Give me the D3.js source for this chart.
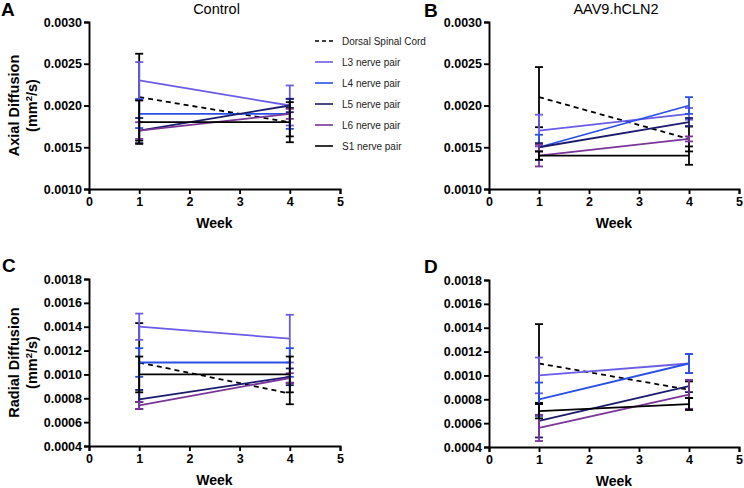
<!DOCTYPE html>
<html><head><meta charset="utf-8">
<script src="https://cdn.jsdelivr.net/npm/d3@7"></script>
<style>body{margin:0;background:#fff}svg{display:block}</style>
</head><body><svg id="c" width="744" height="488"></svg>
<script>
const weeks = [1, 4];
const seriesNames = ["Dorsal Spinal Cord", "L3 nerve pair", "L4 nerve pair", "L5 nerve pair", "L6 nerve pair", "S1 nerve pair"];
const seriesColors = ["#000000", "#6a5ce6", "#2a4fe6", "#1b1b6e", "#7a3598", "#000000"];
const seriesDash = ["5,4", null, null, null, null, null];

const xTicks = [0, 1, 2, 3, 4, 5];
const axialTicks = [0.0010, 0.0015, 0.0020, 0.0025, 0.0030];
const radialTicks = [0.0004, 0.0006, 0.0008, 0.0010, 0.0012, 0.0014, 0.0016, 0.0018];

// mean per series: [week1, week4]
const axialControl = [[0.0021, 0.0018], [0.0023, 0.0020], [0.0019, 0.0019], [0.0017, 0.0020], [0.0017, 0.0019], [0.0018, 0.0018]];
const axialControlErr = [[0.00052, 0.00017], [0.00022, 0.00024], [0.00017, 0.00018], [0.00015, 0.00008], [0.00010, 0.00006], [0.00026, 0.00024]];
const axialCLN2 = [[0.0021, 0.0016], [0.0017, 0.0019], [0.0015, 0.0020], [0.0015, 0.0018], [0.0014, 0.0016], [0.0014, 0.0014]];
const axialCLN2Err = [[0.00036, 0.00015], [0.00019, 0.00007], [0.00015, 0.00010], [0.00005, 0.00005], [0.00013, 0.00003], [0.00005, 0.00011]];
const radialControl = [[0.0011, 0.00084], [0.0014, 0.0013], [0.0011, 0.0011], [0.00079, 0.00098], [0.00074, 0.00097], [0.0010, 0.0010]];
const radialControlErr = [[0.00033, 0.00009], [0.00011, 0.00020], [0.00012, 0.00012], [0.00008, 0.00007], [0.00003, 0.00004], [0.00015, 0.00015]];
const radialCLN2 = [[0.0011, 0.00088], [0.0010, 0.0011], [0.0008, 0.0011], [0.00062, 0.00091], [0.00056, 0.00084], [0.0007, 0.00076]];
const radialCLN2Err = [[0.00033, 0.00007], [0.00015, 0.00008], [0.00014, 0.00008], [0.00014, 0.00005], [0.00011, 0.00012], [0.00006, 0.00005]];

const svg = d3.select("#c");
const FONT = "'Liberation Sans', Arial, sans-serif";

function panel(opt) {
  const g = svg.append("g");
  const x = d3.scaleLinear().domain([0, 5]).range([opt.x0, opt.x1]);
  const y = d3.scaleLinear().domain(opt.yDomain).range([opt.y1, opt.y0]);

  opt.means.forEach((m, si) => {
    const col = seriesColors[si];
    const sg = g.append("g");
    weeks.forEach((w, wi) => {
      const v = m[wi], e = opt.errs[si][wi];
      const cx = x(w);
      sg.append("line").attr("x1", cx).attr("x2", cx).attr("y1", y(v - e)).attr("y2", y(v + e))
        .attr("stroke", col).attr("stroke-width", 1.8);
      [v - e, v + e].forEach(t => {
        sg.append("line").attr("x1", cx - 4).attr("x2", cx + 4).attr("y1", y(t)).attr("y2", y(t))
          .attr("stroke", col).attr("stroke-width", 1.8);
      });
    });
    sg.append("path")
      .attr("d", d3.line().x((d, i) => x(weeks[i])).y(d => y(d))(m))
      .attr("fill", "none").attr("stroke", col).attr("stroke-width", 1.8)
      .attr("stroke-dasharray", seriesDash[si]);
  });

  const xa = g.append("g").attr("transform", `translate(0,${opt.y1})`)
    .call(d3.axisBottom(x).tickValues(xTicks).tickFormat(d3.format("d")).tickSize(5).tickPadding(3));
  const ya = g.append("g").attr("transform", `translate(${opt.x0},0)`)
    .call(d3.axisLeft(y).tickValues(opt.yTicks).tickFormat(d3.format(".4f")).tickSize(5).tickPadding(2));
  [xa, ya].forEach(a => {
    a.select(".domain").attr("stroke", "#000").attr("stroke-width", 1.9);
    a.selectAll(".tick line").attr("stroke", "#000").attr("stroke-width", 1.9);
    a.selectAll(".tick text").attr("fill", "#000").style("font-family", FONT)
      .style("font-size", "12.5px").style("font-weight", "bold");
  });

  g.append("text").attr("x", (opt.x0 + opt.x1) / 2).attr("y", opt.y1 + 39)
    .attr("text-anchor", "middle").style("font-family", FONT).style("font-size", "14px")
    .style("font-weight", "bold").text("Week");

  if (opt.title) {
    g.append("text").attr("x", (opt.x0 + opt.x1) / 2 + 2).attr("y", opt.y0 - 8)
      .attr("text-anchor", "middle").style("font-family", FONT).style("font-size", "14.5px").text(opt.title);
  }
  g.append("text").attr("x", opt.lx).attr("y", opt.ly).style("font-family", FONT)
    .style("font-size", "19px").style("font-weight", "bold").text(opt.letter);

  if (opt.yTitle) {
    const cy = (opt.y0 + opt.y1) / 2;
    g.append("text").attr("transform", `translate(19,${cy}) rotate(-90)`).attr("text-anchor", "middle")
      .style("font-family", FONT).style("font-size", "14.5px").style("font-weight", "bold").text(opt.yTitle);
    const t2 = g.append("text").attr("transform", `translate(37,${cy}) rotate(-90)`).attr("text-anchor", "middle")
      .style("font-family", FONT).style("font-size", "14.5px").style("font-weight", "bold");
    t2.append("tspan").text("(mm");
    t2.append("tspan").attr("dy", -5).style("font-size", "9.5px").text("2");
    t2.append("tspan").attr("dy", 5).text("/s)");
  }
}

panel({x0: 89, x1: 340, y0: 22, y1: 189, yDomain: [0.0010, 0.0030], yTicks: axialTicks,
  means: axialControl, errs: axialControlErr, title: "Control", letter: "A", lx: 1, ly: 16, yTitle: "Axial Diffusion"});
panel({x0: 489, x1: 739, y0: 22, y1: 189, yDomain: [0.0010, 0.0030], yTicks: axialTicks,
  means: axialCLN2, errs: axialCLN2Err, title: "AAV9.hCLN2", letter: "B", lx: 424, ly: 17});
panel({x0: 89, x1: 340, y0: 279, y1: 446, yDomain: [0.0004, 0.0018], yTicks: radialTicks,
  means: radialControl, errs: radialControlErr, letter: "C", lx: 2, ly: 272, yTitle: "Radial Diffusion"});
panel({x0: 489, x1: 739, y0: 280, y1: 447, yDomain: [0.0004, 0.0018], yTicks: radialTicks,
  means: radialCLN2, errs: radialCLN2Err, letter: "D", lx: 424, ly: 273});

const lg = svg.append("g");
const ly = d3.scalePoint().domain(seriesNames).range([41, 146]);
seriesNames.forEach((n, i) => {
  lg.append("line").attr("x1", 315).attr("x2", 333).attr("y1", ly(n)).attr("y2", ly(n))
    .attr("stroke", seriesColors[i]).attr("stroke-width", 1.6).attr("stroke-dasharray", seriesDash[i] ? "4,3" : null);
  lg.append("text").attr("x", 342).attr("y", ly(n) + 3.5).style("font-family", FONT)
    .style("font-size", "10px").attr("fill", "#222").text(n);
});
</script></body></html>
